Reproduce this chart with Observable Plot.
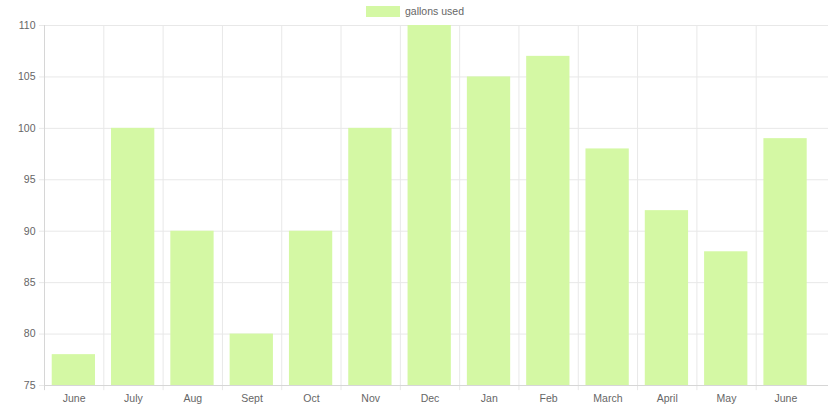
<!DOCTYPE html>
<html><head><meta charset="utf-8">
<script src="https://cdn.jsdelivr.net/npm/d3@7"></script>
<script src="https://cdn.jsdelivr.net/npm/@observablehq/plot@0.6"></script>
<style>
body{margin:0;background:#fff;font-family:"Liberation Sans",Arial,sans-serif}
#legend{height:20px;display:flex;justify-content:center;align-items:flex-start;padding-top:6px;font-size:10.5px;line-height:11px;color:#666;padding-left:2px;box-sizing:border-box}
.sw{display:inline-block;width:34px;height:11px;background:#d4f8a4;margin-right:5px}
</style></head><body>
<div id="legend"><span class="sw"></span><span>gallons used</span></div>
<div id="chart"></div>
<script>
const months = ["June","July","Aug","Sept","Oct","Nov","Dec","Jan","Feb","March","April","May","June"];
const gallons = [78,100,90,80,90,100,110,105,107,98,92,88,99];
const yTicks = [75,80,85,90,95,100,105,110];

const data = months.map((m,i)=>({i, month:m, value:gallons[i]}));
const boundaries = d3.range(months.length);
const centers = boundaries.map(i=>i+0.5);
const grid = "#e8e8e8";
const axisCol = "#d6d6d6";

const chart = Plot.plot({
  width:828, height:393,
  marginTop:5, marginBottom:28, marginLeft:44, marginRight:0,
  style:{fontFamily:'"Liberation Sans",Arial,sans-serif', fontSize:"10.5px", color:"#666", background:"#fff"},
  x:{domain:[0, months.length], range:[44,815]},
  y:{domain:[75,110]},
  marks:[
    Plot.gridY(yTicks,{stroke:grid, strokeOpacity:1}),
    Plot.ruleX(boundaries.slice(1),{y1:110, y2:74.5, stroke:grid}),
    Plot.rectY(data,{x1:d=>d.i+0.13, x2:d=>d.i+0.86, y1:75, y2:"value", fill:"#d4f8a4"}),
    Plot.ruleY([75],{stroke:axisCol}),
    Plot.ruleX([0],{y1:110, y2:74.5, stroke:axisCol}),
    Plot.axisY(yTicks,{tickSize:5, tickPadding:4, stroke:grid, fill:"#666", label:null}),
    Plot.axisX(centers,{tickSize:0, tickPadding:9, tickFormat:d=>months[Math.floor(d)], fill:"#666", label:null})
  ]
});
document.getElementById("chart").append(chart);
</script>
</body></html>
